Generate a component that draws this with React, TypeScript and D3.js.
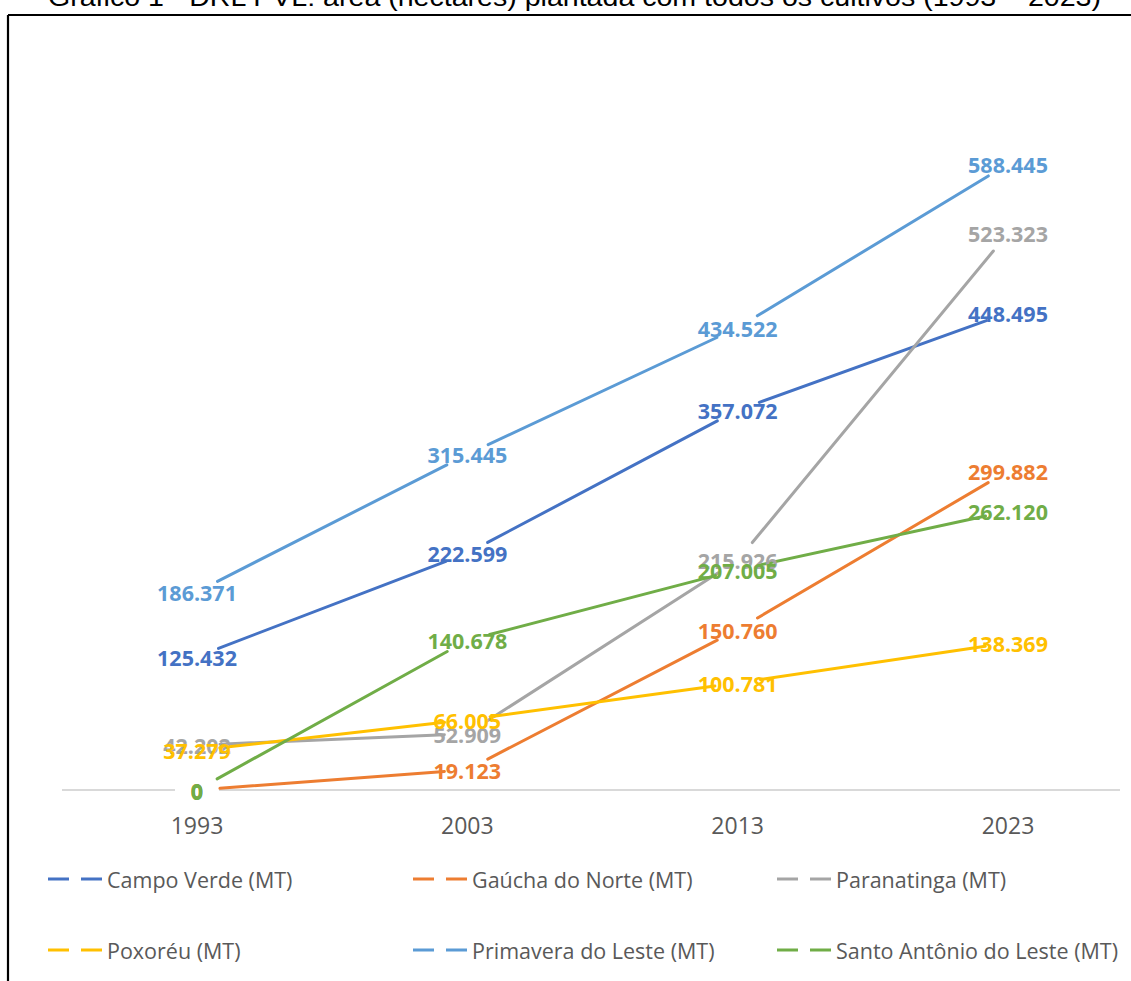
import React from "react";
import * as d3 from "d3";

const title = "Gráfico 1 - DRL PVL: área (hectares) plantada com todos os cultivos (1993 – 2023)";
const years = ["1993", "2003", "2013", "2023"];
const seriesNames = [
  "Campo Verde (MT)",
  "Gaúcha do Norte (MT)",
  "Paranatinga (MT)",
  "Poxoréu (MT)",
  "Primavera do Leste (MT)",
  "Santo Antônio do Leste (MT)",
];
const campoVerde = [125.432, 222.599, 357.072, 448.495];
const gauchaDoNorte = [0, 19.123, 150.76, 299.882];
const paranatinga = [42.202, 52.909, 215.926, 523.323];
const poxoreu = [37.279, 66.005, 100.781, 138.369];
const primavera = [186.371, 315.445, 434.522, 588.445];
const santoAntonio = [0, 140.678, 207.005, 262.12];
const colors = ["#4472C4", "#ED7D31", "#A5A5A5", "#FFC000", "#5B9BD5", "#70AD47"];

const seriesValues = [campoVerde, gauchaDoNorte, paranatinga, poxoreu, primavera, santoAntonio];

const W = 1131;
const H = 981;
const GAP = 23;
const fmt = (v: number) => (v === 0 ? "0" : d3.format(".3f")(v));

export default function App() {
  const x = d3.scalePoint<string>().domain(years).range([197, 1008]);
  const y = d3.scaleLinear().domain([0, 600]).range([790, 151.7]);

  const segments: { x1: number; y1: number; x2: number; y2: number; c: string; k: string }[] = [];
  seriesValues.forEach((vals, si) => {
    for (let i = 0; i < vals.length - 1; i++) {
      const ax = x(years[i])!, ay = y(vals[i]);
      const bx = x(years[i + 1])!, by = y(vals[i + 1]);
      const dx = bx - ax, dy = by - ay;
      const len = Math.hypot(dx, dy);
      const ux = dx / len, uy = dy / len;
      segments.push({
        x1: ax + ux * GAP,
        y1: ay + uy * GAP,
        x2: bx - ux * GAP,
        y2: by - uy * GAP,
        c: colors[si],
        k: `${si}-${i}`,
      });
    }
  });

  const x0 = x(years[0])!;
  const legendCols = [48, 413, 777];
  const legendRows = [879, 950];

  return (
    <svg
      width={W}
      height={H}
      style={{ position: "absolute", left: 0, top: 0, background: "#fff" }}
      fontFamily="'Open Sans', sans-serif"
    >
      <rect x={0} y={0} width={W} height={H} fill="#fff" />
      <text
        x={48}
        y={6}
        fontSize={25}
        fill="#000"
        textLength={1053}
        lengthAdjust="spacingAndGlyphs"
        fontFamily="'Liberation Sans', sans-serif"
      >
        {title}
      </text>
      <line x1={8} y1={15} x2={W} y2={15} stroke="#000" strokeWidth={2.2} />
      <line x1={8} y1={15} x2={8} y2={H} stroke="#000" strokeWidth={2.2} />

      {/* category axis */}
      <line x1={62} y1={y(0)} x2={x0 - 22} y2={y(0)} stroke="#D9D9D9" strokeWidth={2} />
      <line x1={x0 + 22} y1={y(0)} x2={1120} y2={y(0)} stroke="#D9D9D9" strokeWidth={2} />
      {years.map((yr) => (
        <text key={yr} x={x(yr)} y={825} fontSize={23} fill="#595959" textAnchor="middle" dominantBaseline="central">
          {yr}
        </text>
      ))}

      {segments.map((s) => (
        <line key={s.k} x1={s.x1} y1={s.y1} x2={s.x2} y2={s.y2} stroke={s.c} strokeWidth={3} strokeLinecap="round" />
      ))}

      {seriesValues.map((vals, si) =>
        vals.map((v, i) => (
          <text
            key={`${si}-${i}`}
            x={x(years[i])}
            y={y(v) + 0.5}
            fontSize={21.5}
            fontWeight={700}
            fill={colors[si]}
            textAnchor="middle"
            dominantBaseline="central"
          >
            {fmt(v)}
          </text>
        ))
      )}
      {/* re-draw 0 label of Santo Antônio on top */}
      <text x={x0} y={y(santoAntonio[0]) + 1.5} fontSize={21.5} fontWeight={700} fill={colors[5]} textAnchor="middle" dominantBaseline="central">
        {fmt(santoAntonio[0])}
      </text>

      {seriesNames.map((name, i) => {
        const lx = legendCols[i % 3];
        const ly = legendRows[Math.floor(i / 3)];
        return (
          <g key={name}>
            <line x1={lx} y1={ly} x2={lx + 55} y2={ly} stroke={colors[i]} strokeWidth={3} strokeDasharray="21 12" />
            <text x={lx + 59} y={ly} fontSize={21.5} fill="#595959" dominantBaseline="central">
              {name}
            </text>
          </g>
        );
      })}
    </svg>
  );
}
